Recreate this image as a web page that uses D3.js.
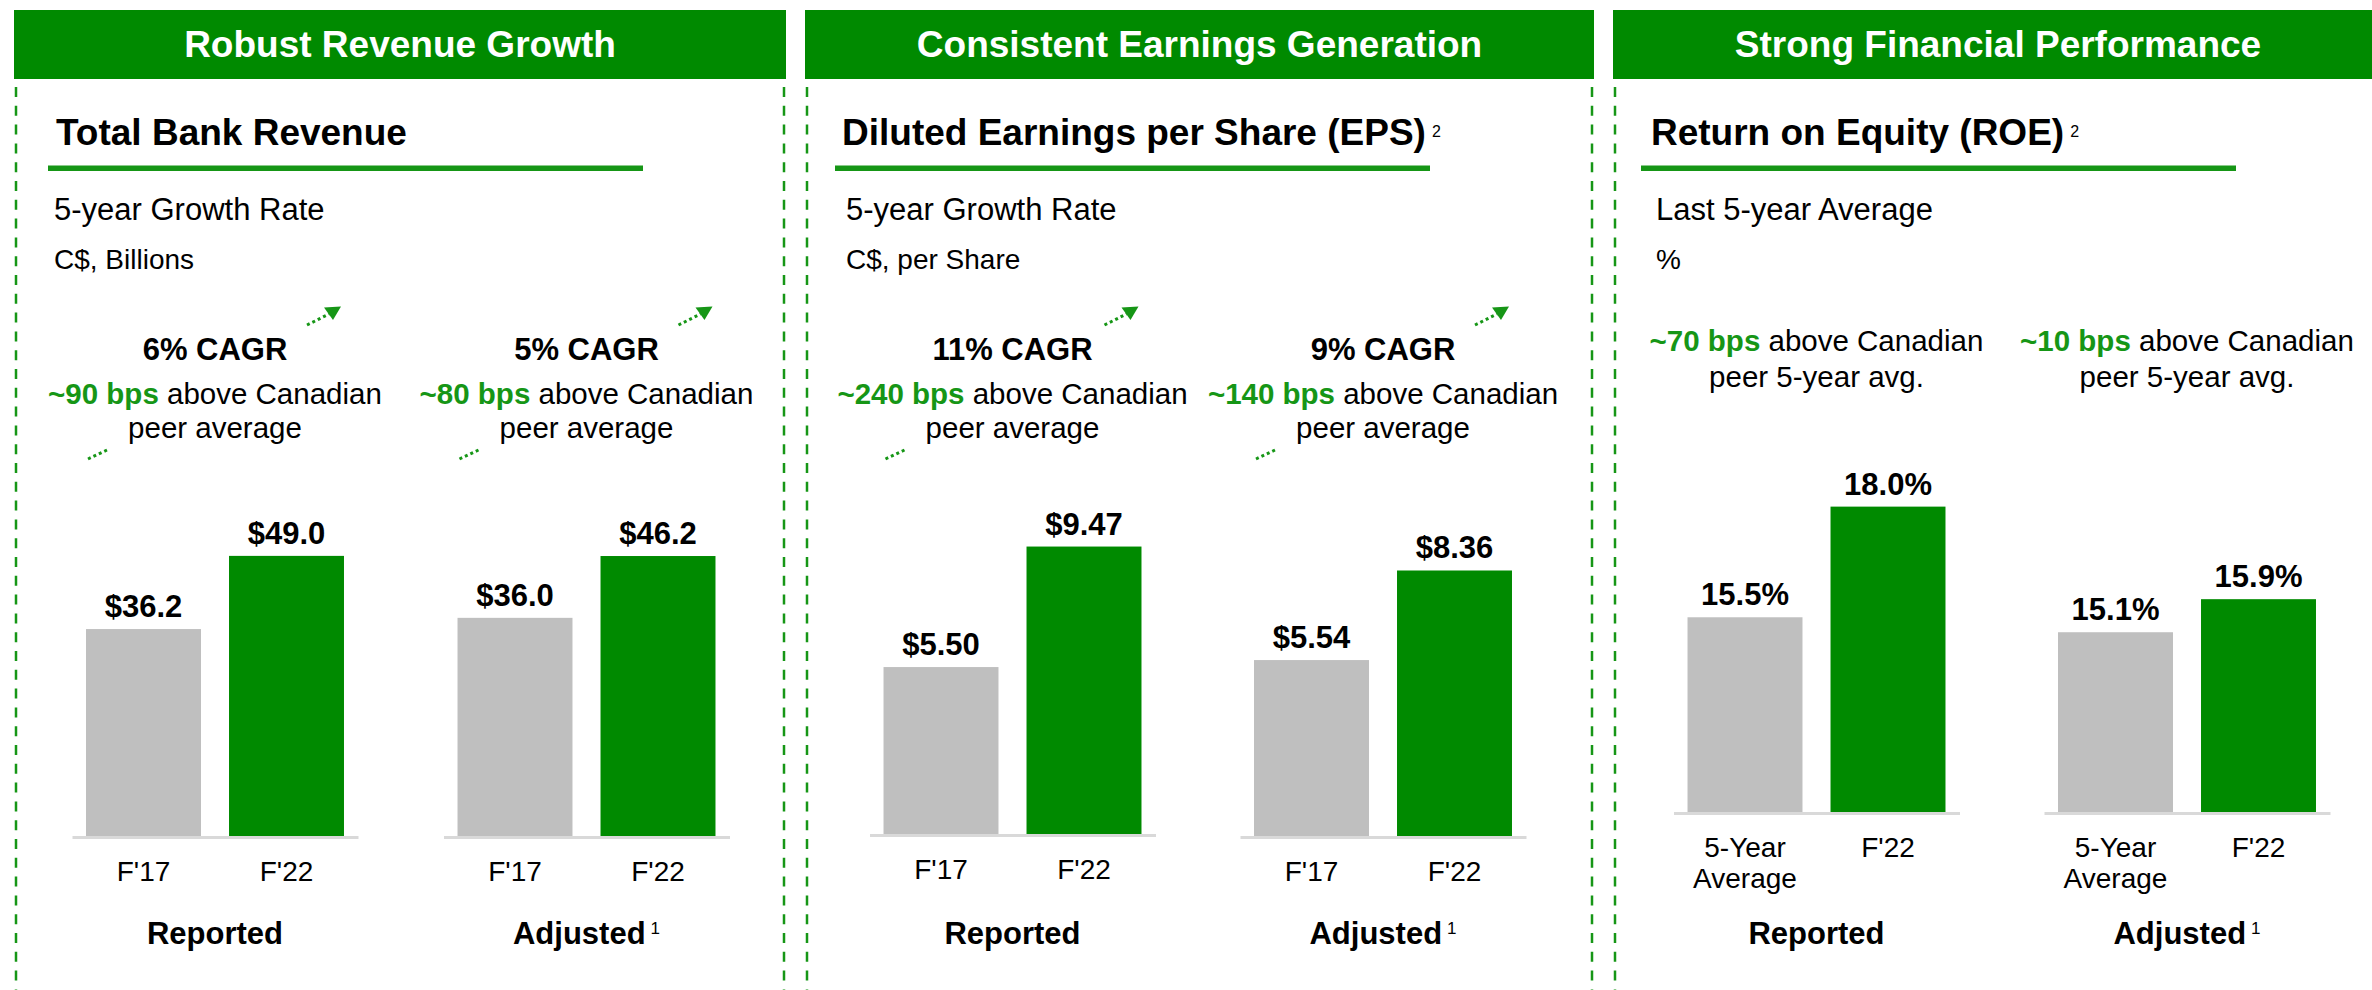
<!DOCTYPE html>
<html>
<head>
<meta charset="utf-8">
<script src="https://cdn.jsdelivr.net/npm/d3@7"></script>
<style>
  body { margin: 0; background: #fff; }
  svg { display: block; font-family: "Liberation Sans", Arial, sans-serif; }
</style>
</head>
<body>
<svg id="svg" width="2372" height="990"></svg>
<script>
// chart data
const panelHeaders = ["Robust Revenue Growth", "Consistent Earnings Generation", "Strong Financial Performance"];
const metricTitles = ["Total Bank Revenue", "Diluted Earnings per Share (EPS)", "Return on Equity (ROE)"];
const titleNotes = [null, "2", "2"];
const subtitles = ["5-year Growth Rate", "5-year Growth Rate", "Last 5-year Average"];
const unitLabels = ["C$, Billions", "C$, per Share", "%"];
const groupLabels = ["Reported", "Adjusted"];
const groupNotes = [null, "1"];
const cagrLabels = [["6% CAGR", "5% CAGR"], ["11% CAGR", "9% CAGR"], [null, null]];
const bpsLabels = [["~90 bps", "~80 bps"], ["~240 bps", "~140 bps"], ["~70 bps", "~10 bps"]];
const peerLabels = ["peer average", "peer average", "peer 5-year avg."];
const categoryLabels = [
  [["F'17"], ["F'22"]],
  [["F'17"], ["F'22"]],
  [["5-Year", "Average"], ["F'22"]]
];
const revenueValues = [[36.2, 49.0], [36.0, 46.2]];
const epsValues = [[5.50, 9.47], [5.54, 8.36]];
const roeValues = [[15.5, 18.0], [15.1, 15.9]];
// value axis extent of each small chart (hidden axes)
const revenueAxis = [[0, 60], [0, 56.6]];
const epsAxis = [[0, 11.3], [0, 10.8]];
const roeAxis = [[11.1, 18.85], [10.75, 19.05]];

const green = "#008a00", lightGreen = "#169616", grey = "#bfbfbf", axisGrey = "#d9d9d9";
const plotH = 343;

const layout = [
  {x0: 14, x1: 786, titleX: 56, lineX: 48, textX: 54, centers: [215, 586.5], base: [836, 836],
   values: revenueValues, axis: revenueAxis, fmt: d3.format("$.1f"), bpsY: 404, peerY: 438},
  {x0: 805, x1: 1594, titleX: 842, lineX: 835, textX: 846, centers: [1012.5, 1383], base: [834, 836],
   values: epsValues, axis: epsAxis, fmt: d3.format("$.2f"), bpsY: 404, peerY: 438},
  {x0: 1613, x1: 2383, titleX: 1651, lineX: 1641, textX: 1656, centers: [1816.5, 2187], base: [812, 812],
   values: roeValues, axis: roeAxis, fmt: v => v.toFixed(1) + "%", bpsY: 351, peerY: 387}
];

const svg = d3.select("svg#svg");

layout.forEach((p, i) => {
  const g = svg.append("g");

  // dashed frame sides
  [p.x0 + 2, p.x1 - 2].forEach(x => {
    g.append("line").attr("x1", x).attr("x2", x).attr("y1", 87).attr("y2", 990)
      .attr("stroke", lightGreen).attr("stroke-width", 2.5).attr("stroke-dasharray", "10 8.8");
  });

  // header band
  g.append("rect").attr("x", p.x0).attr("y", 10).attr("width", p.x1 - p.x0).attr("height", 69)
    .attr("fill", green);
  g.append("text").attr("x", (p.x0 + p.x1) / 2).attr("y", 57).attr("text-anchor", "middle")
    .attr("fill", "#fff").attr("font-weight", "bold").attr("font-size", 37).text(panelHeaders[i]);

  // metric title + underline
  const t = g.append("text").attr("x", p.titleX).attr("y", 145).attr("font-weight", "bold")
    .attr("font-size", 37).attr("fill", "#000").text(metricTitles[i]);
  if (titleNotes[i]) {
    t.append("tspan").attr("dx", 6).attr("dy", -8).attr("font-size", 16).attr("font-weight", "normal")
      .text(titleNotes[i]);
  }
  g.append("rect").attr("x", p.lineX).attr("y", 165.5).attr("width", 595).attr("height", 5.5)
    .attr("fill", lightGreen);

  g.append("text").attr("x", p.textX).attr("y", 220).attr("font-size", 31).text(subtitles[i]);
  g.append("text").attr("x", p.textX).attr("y", 269).attr("font-size", 28).text(unitLabels[i]);

  // the two small bar charts
  p.centers.forEach((cx, j) => {
    const vals = p.values[j];
    const cats = categoryLabels[i].map(c => c.join(" "));
    const x = d3.scaleBand().domain(cats).range([cx - 143, cx + 143])
      .paddingInner(0.196).paddingOuter(0.098);
    const y = d3.scaleLinear().domain(p.axis[j]).range([p.base[j], p.base[j] - plotH]);
    const c = g.append("g");

    if (cagrLabels[i][j]) {
      c.append("text").attr("x", cx).attr("y", 360).attr("text-anchor", "middle")
        .attr("font-weight", "bold").attr("font-size", 31).text(cagrLabels[i][j]);
      // decorative dotted arrow pieces
      c.append("line").attr("x1", cx + 92).attr("y1", 325).attr("x2", cx + 114).attr("y2", 314)
        .attr("stroke", lightGreen).attr("stroke-width", 3).attr("stroke-dasharray", "3 3");
      c.append("path").attr("d", `M${cx + 109},307.5L${cx + 126},306.5L${cx + 118},320Z`)
        .attr("fill", lightGreen);
      c.append("line").attr("x1", cx - 127).attr("y1", 459).attr("x2", cx - 108).attr("y2", 450)
        .attr("stroke", lightGreen).attr("stroke-width", 3).attr("stroke-dasharray", "3 3");
    }

    const bps = c.append("text").attr("x", cx).attr("y", p.bpsY).attr("text-anchor", "middle")
      .attr("font-size", 29.5);
    bps.append("tspan").attr("fill", lightGreen).attr("font-weight", "bold").text(bpsLabels[i][j]);
    bps.append("tspan").attr("fill", "#000").text(" above Canadian");
    c.append("text").attr("x", cx).attr("y", p.peerY).attr("text-anchor", "middle")
      .attr("font-size", 29.5).text(peerLabels[i]);

    const data = cats.map((k, n) => ({key: k, lines: categoryLabels[i][n], value: vals[n], idx: n}));

    c.selectAll("rect.bar").data(data).enter().append("rect").attr("class", "bar")
      .attr("x", d => x(d.key)).attr("width", x.bandwidth())
      .attr("y", d => y(d.value)).attr("height", d => y.range()[0] - y(d.value))
      .attr("fill", d => d.idx === 0 ? grey : green);

    // baseline via axis domain
    const ax = c.append("g").attr("transform", `translate(0,${p.base[j] + 1})`)
      .call(d3.axisBottom(x).tickSize(0).tickSizeOuter(0).tickFormat(""));
    ax.select(".domain").attr("stroke", axisGrey).attr("stroke-width", 3);

    c.selectAll("text.val").data(data).enter().append("text").attr("class", "val")
      .attr("x", d => x(d.key) + x.bandwidth() / 2).attr("y", d => y(d.value) - 12)
      .attr("text-anchor", "middle").attr("font-weight", "bold").attr("font-size", 31)
      .text(d => p.fmt(d.value));

    const cl = c.selectAll("text.cat").data(data).enter().append("text").attr("class", "cat")
      .attr("x", d => x(d.key) + x.bandwidth() / 2).attr("y", p.base[j] + 45)
      .attr("text-anchor", "middle").attr("font-size", 28);
    cl.selectAll("tspan").data(d => d.lines.map(l => ({l, cx: x(d.key) + x.bandwidth() / 2})))
      .enter().append("tspan").attr("x", d => d.cx).attr("dy", (d, k) => k ? 31 : 0).text(d => d.l);

    const gl = c.append("text").attr("x", cx).attr("y", 944).attr("text-anchor", "middle")
      .attr("font-weight", "bold").attr("font-size", 31).text(groupLabels[j]);
    if (groupNotes[j]) {
      gl.append("tspan").attr("dx", 5).attr("dy", -10).attr("font-size", 17).attr("font-weight", "normal")
        .text(groupNotes[j]);
    }
  });
});
</script>
</body>
</html>
